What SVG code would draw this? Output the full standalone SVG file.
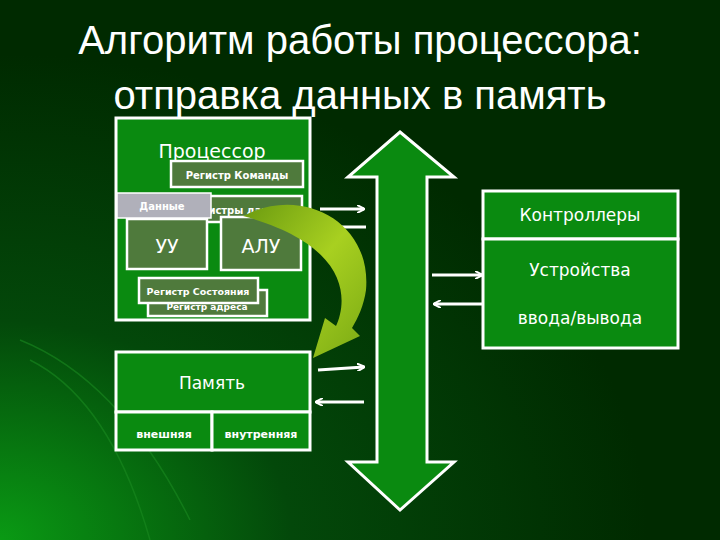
<svg xmlns="http://www.w3.org/2000/svg" width="720" height="540" viewBox="0 0 720 540">
<defs>
<radialGradient id="bg" cx="0" cy="1" r="0.9">
<stop offset="0" stop-color="#0a9a14"/><stop offset="0.45" stop-color="#03480a"/><stop offset="1" stop-color="#002a00"/>
</radialGradient>
<linearGradient id="lime" x1="0" y1="0" x2="1" y2="1">
<stop offset="0" stop-color="#6a9a10"/><stop offset="0.5" stop-color="#a8d020"/><stop offset="1" stop-color="#7aaa14"/>
</linearGradient>
<marker id="ah" markerWidth="8" markerHeight="8" refX="7" refY="4" orient="auto" markerUnits="userSpaceOnUse"><path d="M0,0 L8,4 L0,8" fill="none" stroke="#fff" stroke-width="2"/></marker>
</defs>
<style>
.box{fill:#0a8a10;stroke:#fff;stroke-width:3}
.reg{fill:#4f7a3c;stroke:#fff;stroke-width:2.5}
.t{font-family:"DejaVu Sans",sans-serif;fill:#fff;text-anchor:middle}
.s{font-weight:bold}
.c{stroke:#fff;stroke-width:3;fill:none}
</style>
<rect width="720" height="540" fill="url(#bg)"/>
<g fill="none" stroke="#1a8a20" stroke-width="1.5" opacity="0.6">
<path d="M20,340 Q120,380 190,520"/><path d="M30,360 Q110,400 150,540"/>
</g>
<text class="t" x="360" y="54" style="font-family:'Liberation Sans',sans-serif" font-size="40" fill="#cfcfcf">Алгоритм работы процессора:</text>
<text class="t" x="360" y="109" style="font-family:'Liberation Sans',sans-serif" font-size="40" fill="#cfcfcf">отправка данных в память</text>
<g id="processor">
<rect class="box" x="116" y="118" width="194" height="202"/>
<text class="t" x="212" y="158" font-size="19">Процессор</text>
</g>
<g id="reg-cmd"><rect class="reg" x="171" y="161" width="132" height="26"/><text class="t s" x="237" y="179" font-size="10">Регистр Команды</text></g>
<g id="reg-data"><rect class="reg" x="167" y="196" width="135" height="26"/><text class="t s" x="240" y="214" font-size="10">Регистры данных</text></g>
<g id="uu"><rect class="reg" x="127" y="219" width="80" height="50"/><text class="t" x="167" y="253" font-size="19">УУ</text></g>
<g id="alu"><rect class="reg" x="221" y="217" width="80" height="53"/><text class="t" x="261" y="253" font-size="19">АЛУ</text></g>
<g id="reg-addr"><rect class="reg" x="148" y="290" width="119" height="26"/><text class="t s" x="207" y="310" font-size="9">Регистр адреса</text></g>
<g id="reg-state"><rect class="reg" x="139" y="278" width="119" height="25"/><text class="t s" x="198" y="295" font-size="9.5">Регистр Состояния</text></g>
<g id="data"><rect x="117" y="193" width="94" height="25" fill="#b0b0ba" stroke="#fff" stroke-width="1.5"/><text class="t s" x="162" y="210" font-size="10">Данные</text></g>
<g id="bus"><path class="box" d="M400,132 L454,177 L427,177 L427,462 L454,462 L400,510 L348,462 L377,462 L377,177 L348,177 Z"/></g>
<g id="controllers"><rect class="box" x="483" y="191" width="195" height="48"/><text class="t" x="580" y="221" font-size="17">Контроллеры</text></g>
<g id="devices"><rect class="box" x="483" y="239" width="195" height="109"/><text class="t" x="580" y="276" font-size="17">Устройства</text><text class="t" x="580" y="324" font-size="17">ввода/вывода</text></g>
<g id="memory">
<rect class="box" x="116" y="352" width="194" height="60"/><text class="t" x="212" y="389" font-size="17">Память</text>
<rect class="box" x="116" y="412" width="96" height="38"/><text class="t s" x="164" y="438" font-size="11">внешняя</text>
<rect class="box" x="212" y="412" width="98" height="38"/><text class="t s" x="261" y="438" font-size="11">внутренняя</text>
</g>
<g id="connectors">
<line class="c" x1="320" y1="209" x2="364" y2="209" marker-end="url(#ah)"/>
<line class="c" x1="336" y1="227" x2="366" y2="227"/>
<line class="c" x1="432" y1="275" x2="482" y2="275" marker-end="url(#ah)"/>
<line class="c" x1="483" y1="304" x2="434" y2="304" marker-end="url(#ah)"/>
<line class="c" x1="318" y1="370" x2="364" y2="367" marker-end="url(#ah)"/>
<line class="c" x1="364" y1="402" x2="316" y2="402" marker-end="url(#ah)"/>
<path d="M243,216 C300,185 372,220 366,290 C364,305 358,318 352,328 L360,336 L313,358 L325,318 L336,326 C348,300 350,245 243,216 Z" fill="url(#lime)"/>
</g>
</svg>
